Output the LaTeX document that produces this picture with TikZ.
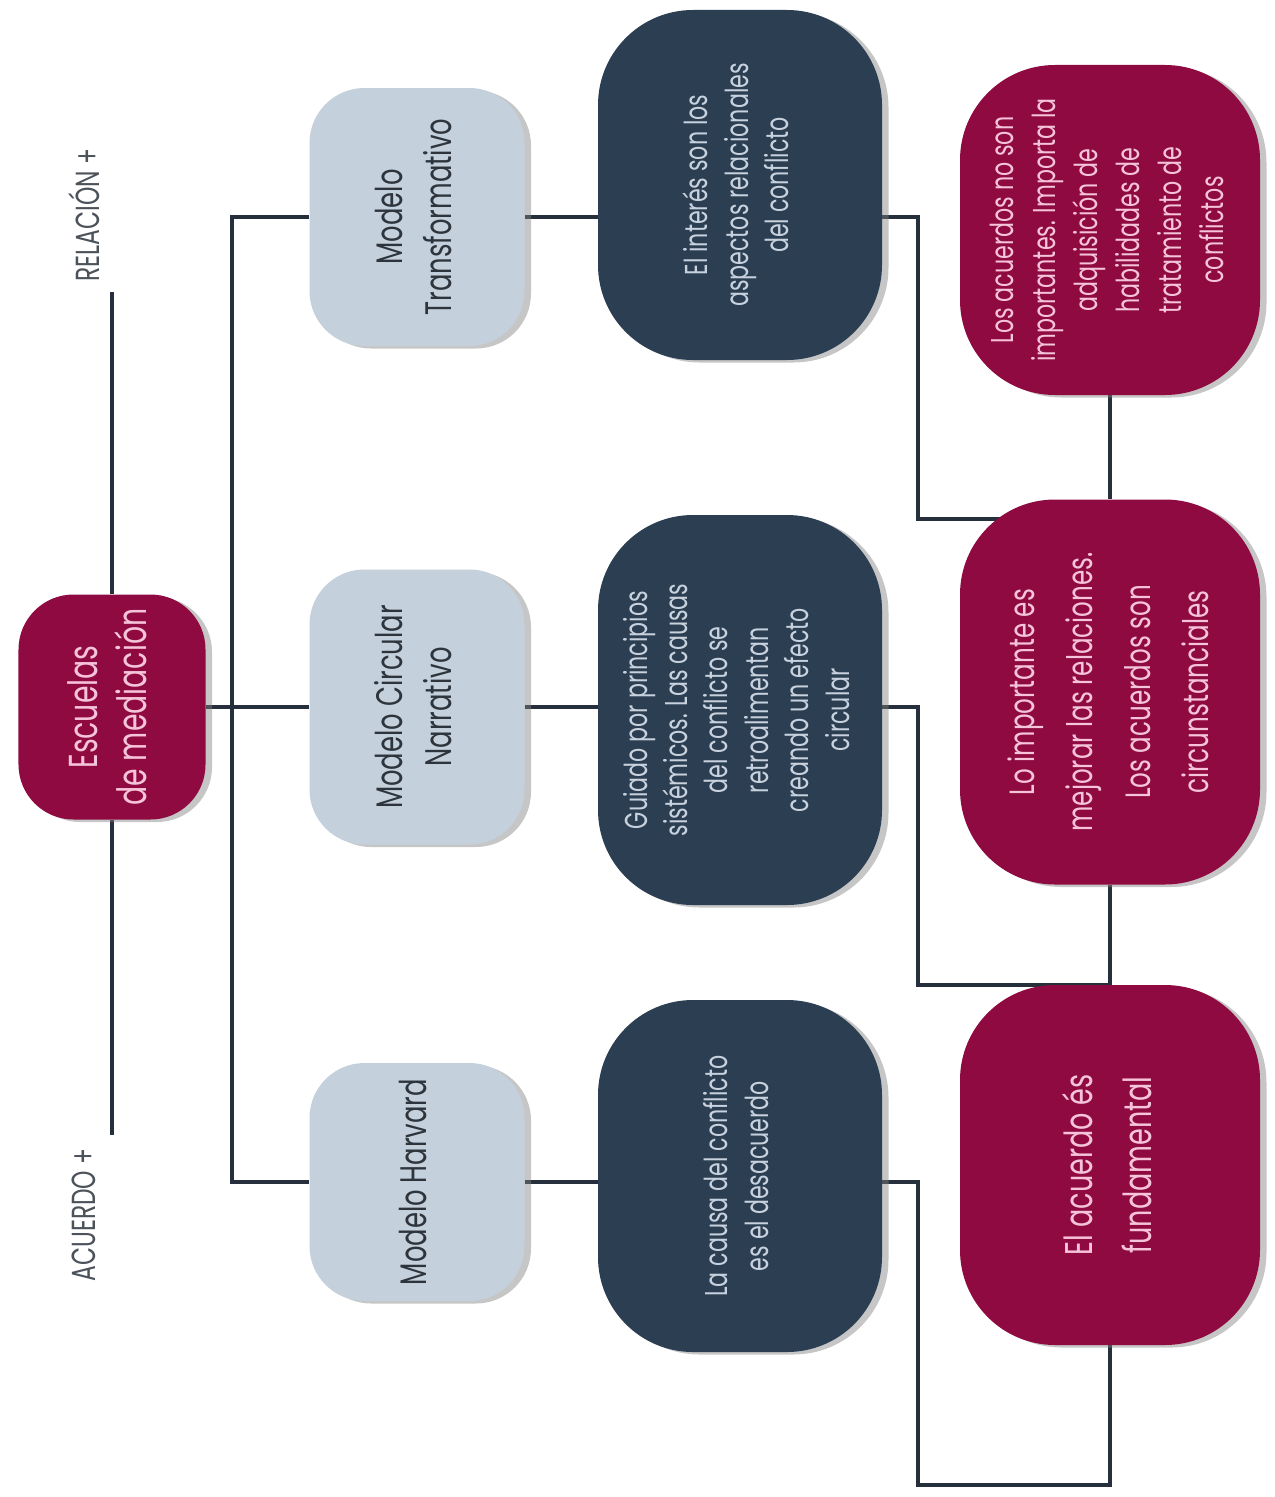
\documentclass[tikz,border=0pt]{standalone}
\usepackage{fontspec}
\setmainfont[FakeStretch=0.7]{Poppins}
\usepackage{graphicx}
\usetikzlibrary{calc,shadows,backgrounds}
\definecolor{vino}{RGB}{142,10,64}
\definecolor{marino}{RGB}{43,62,82}
\definecolor{gris}{RGB}{196,208,220}
\definecolor{rosa}{RGB}{246,196,218}
\definecolor{grisclaro}{RGB}{200,210,222}
\definecolor{tinta}{RGB}{45,52,60}
\definecolor{linea}{RGB}{38,48,60}
\newcommand{\vtext}[3]{\rotatebox{90}{\fontsize{#1}{#2}\selectfont\begin{tabular}{@{}c@{}}#3\end{tabular}}}

\begin{document}
\begin{tikzpicture}[x=0.2mm,y=-0.2mm,
    caja/.style={inner sep=0pt,drop shadow={shadow xshift=1.3mm,shadow yshift=-0.5mm,opacity=.45}},
    raiz/.style={caja,fill=vino,text=rosa,rounded corners=11mm,minimum width=37.4mm},
    modelo/.style={caja,fill=gris,text=tinta,rounded corners=11mm,minimum width=43mm},
    causa/.style={caja,fill=marino,text=grisclaro,rounded corners=19mm,minimum width=56.8mm},
    fin/.style={caja,fill=vino,text=rosa,rounded corners=19mm,minimum width=60mm},
    eje/.style={rotate=90,text=tinta!85,inner sep=0pt,font=\fontsize{19}{21}\selectfont},
    conector/.style={draw=linea,line width=2.2pt}]
    \useasboundingbox (0,0) rectangle (1274,1497);
    % raiz
    \node[raiz,minimum height=45mm] (esc) at (112,707) {\vtext{23}{28}{Escuelas\\de mediación}};
    \node[eje] (relT) at (84,215) {RELACIÓN +};
    \node[eje] (acuT) at (84,1215) {ACUERDO +};
    \coordinate (relfin) at (112,292);
    \coordinate (acufin) at (112,1135);
    % modelos
    \node[modelo,minimum height=51.6mm] (trans) at (417,217) {\vtext{21}{28}{Modelo\\Transformativo}};
    \node[modelo,minimum height=55mm] (circ) at (417,707) {\vtext{21}{28}{Modelo Circular\\Narrativo}};
    \node[modelo,minimum height=47.6mm] (harv) at (417,1182) {\vtext{21}{28}{Modelo Harvard}};
    % causas
    \node[causa,minimum height=70mm] (int) at (740,185) {\vtext{18}{23}{El interés son los\\aspectos relacionales\\del conflicto}};
    \node[causa,minimum height=78mm] (sis) at (740,710) {\vtext{18}{23}{Guiado por principios\\sistémicos. Las causas\\del conflicto se\\retroalimentan\\creando un efecto\\circular}};
    \node[causa,minimum height=70.4mm] (des) at (740,1176) {\vtext{18}{23}{La causa del conflicto\\es el desacuerdo}};
    % acuerdos
    \node[fin,minimum height=66mm] (hab) at (1110,230) {\vtext{18}{24}{Los acuerdos no son\\importantes. Importa la\\adquisición de\\habilidades de\\tratamiento de\\conflictos}};
    \node[fin,minimum height=77mm] (mej) at (1110,692) {\vtext{20}{33}{Lo importante es\\mejorar las relaciones.\\Los acuerdos son\\circunstanciales}};
    \node[fin,minimum height=72mm] (fund) at (1110,1165) {\vtext{22}{34}{El acuerdo és\\fundamental}};
    \coordinate (bus) at (232,0);
    \coordinate (codo) at (918,0);
    \coordinate (entrada) at ($(mej.north)+(0,20)$);
    \coordinate (pie) at (1110,1485);
    \begin{scope}[on background layer]
      \draw[conector] (esc.north) -- (relfin);
      \draw[conector] (esc.south) -- (acufin);
      \draw[conector] (esc.east) -- (circ.west);
      \draw[conector] (trans.west) -- (trans.west -| bus) -- (harv.west -| bus) -- (harv.west);
      \draw[conector] (trans.east) -- (trans.east -| int.west);
      \draw[conector] (circ.east) -- (circ.east -| sis.west);
      \draw[conector] (harv.east) -- (harv.east -| des.west);
      \draw[conector] (hab.south) -- (mej.north);
      \draw[conector] (mej.south) -- (fund.north);
      \draw[conector] (trans.east -| int.east) -| (codo |- entrada) -- (entrada);
      \draw[conector] (circ.east -| sis.east) -| (codo |- fund.north) -- (fund.north);
      \draw[conector] (harv.east -| des.east) -| (codo |- pie) -- (pie) -- (fund.south);%--(hab)
    \end{scope}
\end{tikzpicture}
\end{document}
